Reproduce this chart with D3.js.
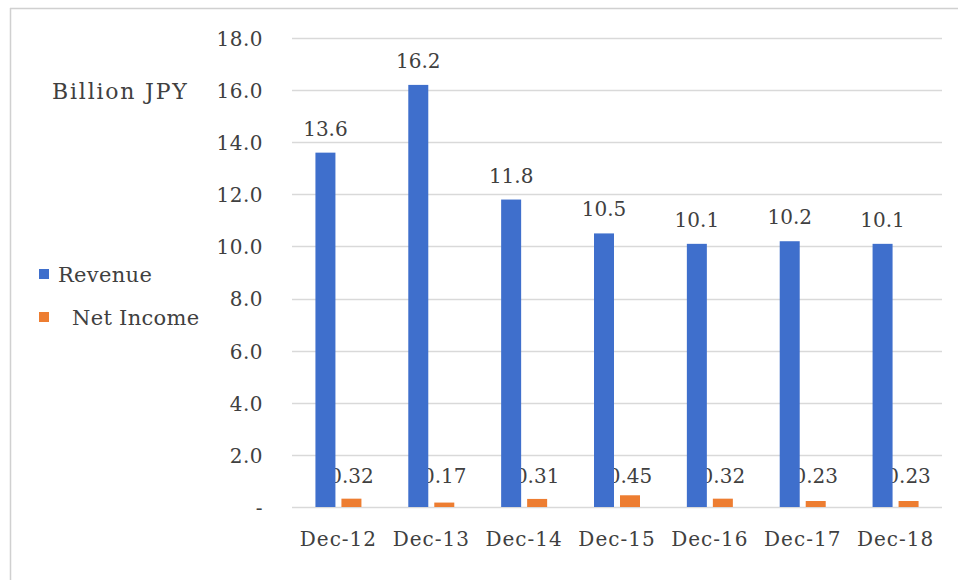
<!DOCTYPE html>
<html>
<head>
<meta charset="utf-8">
<script src="https://cdn.jsdelivr.net/npm/d3@7"></script>
<style>
  body { margin: 0; background: #fff; }
  svg text { fill: #404040; }
</style>
</head>
<body>
<div id="chart"></div>
<script>
// chart data
var categories = ["Dec-12", "Dec-13", "Dec-14", "Dec-15", "Dec-16", "Dec-17", "Dec-18"];
var revenue = [13.6, 16.2, 11.8, 10.5, 10.1, 10.2, 10.1];
var netIncome = [0.32, 0.17, 0.31, 0.45, 0.32, 0.23, 0.23];
var yTicks = [0, 2, 4, 6, 8, 10, 12, 14, 16, 18];
var seriesNames = ["Revenue", "Net Income"];

var width = 958;
var height = 580;
var colors = ["#3f6fcc", "#ed7d31"];
var font = "'DejaVu Serif', 'Liberation Serif', serif";

var plotLeft = 292, plotRight = 942, plotTop = 38, plotBottom = 507;

var svg = d3.select("#chart").append("svg")
            .attr("width", width)
            .attr("height", height);

// light frame, only top and left edges show in the picture
svg.append("line").attr("x1", 10).attr("x2", width).attr("y1", 8.5).attr("y2", 8.5)
   .attr("stroke", "#d0d0d0").attr("stroke-width", 1.5);
svg.append("line").attr("x1", 10.5).attr("x2", 10.5).attr("y1", 8).attr("y2", height)
   .attr("stroke", "#d0d0d0").attr("stroke-width", 1.5);

var x = d3.scaleBand()
          .domain(categories)
          .range([plotLeft, plotRight]);

var y = d3.scaleLinear()
          .domain([0, 18])
          .range([plotBottom, plotTop]);

// gridlines
svg.append("g")
   .selectAll("line")
   .data(yTicks)
   .enter()
   .append("line")
   .attr("x1", plotLeft)
   .attr("x2", plotRight)
   .attr("y1", function (d) { return Math.round(y(d)) + 0.5; })
   .attr("y2", function (d) { return Math.round(y(d)) + 0.5; })
   .attr("stroke", "#d9d9d9")
   .attr("stroke-width", 1.5);

// y axis labels (zero shows as a dash)
var yAxis = d3.axisLeft(y)
              .tickValues(yTicks)
              .tickSize(0)
              .tickPadding(0)
              .tickFormat(function (d) { return d === 0 ? "-  " : d3.format(".1f")(d); });

var yAxisG = svg.append("g")
                .attr("transform", "translate(263,1)")
                .call(yAxis)
                .attr("font-family", font)
                .attr("font-size", 20);
yAxisG.select(".domain").remove();
yAxisG.selectAll("text")
      .style("letter-spacing", "0.5px")
      .attr("fill", "#404040");

// x axis labels
var xAxis = d3.axisBottom(x).tickSize(0).tickPadding(0);
var xAxisG = svg.append("g")
                .attr("transform", "translate(0,532)")
                .call(xAxis)
                .attr("font-family", font)
                .attr("font-size", 20);
xAxisG.select(".domain").remove();
xAxisG.selectAll("text")
      .style("letter-spacing", "1px")
      .attr("fill", "#404040")
      .attr("dy", "0.71em");

var barWidth = 20;
var gap = 6;

// net income labels first; the revenue bars cover part of them
svg.append("g")
   .attr("font-family", font)
   .attr("font-size", 20)
   .selectAll("text")
   .data(netIncome)
   .enter()
   .append("text")
   .attr("x", function (d, i) { return x(categories[i]) + x.bandwidth() / 2 + gap / 2 + barWidth / 2; })
   .attr("y", 483)
   .attr("text-anchor", "middle")
   .text(function (d) { return d3.format(".2f")(d); });

// revenue bars
svg.append("g")
   .selectAll("rect")
   .data(revenue)
   .enter()
   .append("rect")
   .attr("x", function (d, i) { return x(categories[i]) + x.bandwidth() / 2 - gap / 2 - barWidth; })
   .attr("y", function (d) { return y(d); })
   .attr("width", barWidth)
   .attr("height", function (d) { return y(0) - y(d); })
   .style("fill", colors[0]);

// net income bars
svg.append("g")
   .selectAll("rect")
   .data(netIncome)
   .enter()
   .append("rect")
   .attr("x", function (d, i) { return x(categories[i]) + x.bandwidth() / 2 + gap / 2; })
   .attr("y", function (d) { return y(d); })
   .attr("width", barWidth)
   .attr("height", function (d) { return y(0) - y(d); })
   .style("fill", colors[1]);

// revenue labels
svg.append("g")
   .attr("font-family", font)
   .attr("font-size", 20)
   .selectAll("text")
   .data(revenue)
   .enter()
   .append("text")
   .attr("x", function (d, i) { return x(categories[i]) + x.bandwidth() / 2 - gap / 2 - barWidth / 2; })
   .attr("y", function (d) { return y(d) - 17; })
   .attr("text-anchor", "middle")
   .text(function (d) { return d3.format(".1f")(d); });

// unit title
svg.append("text")
   .attr("x", 52)
   .attr("y", 99)
   .attr("font-family", font)
   .attr("font-size", 22)
   .style("letter-spacing", "1.8px")
   .text("Billion JPY");

// legend
var legendX = [58, 72];
var legendY = [282, 325];
var legend = svg.append("g")
                .attr("font-family", font)
                .attr("font-size", 21)
                .selectAll("g")
                .data(seriesNames)
                .enter()
                .append("g");

legend.append("rect")
      .attr("x", 39)
      .attr("y", function (d, i) { return legendY[i] - 13; })
      .attr("width", 10)
      .attr("height", 10)
      .style("fill", function (d, i) { return colors[i]; });

legend.append("text")
      .attr("x", function (d, i) { return legendX[i]; })
      .attr("y", function (d, i) { return legendY[i]; })
      .style("letter-spacing", "0.3px")
      .text(function (d) { return d; });
</script>
</body>
</html>
